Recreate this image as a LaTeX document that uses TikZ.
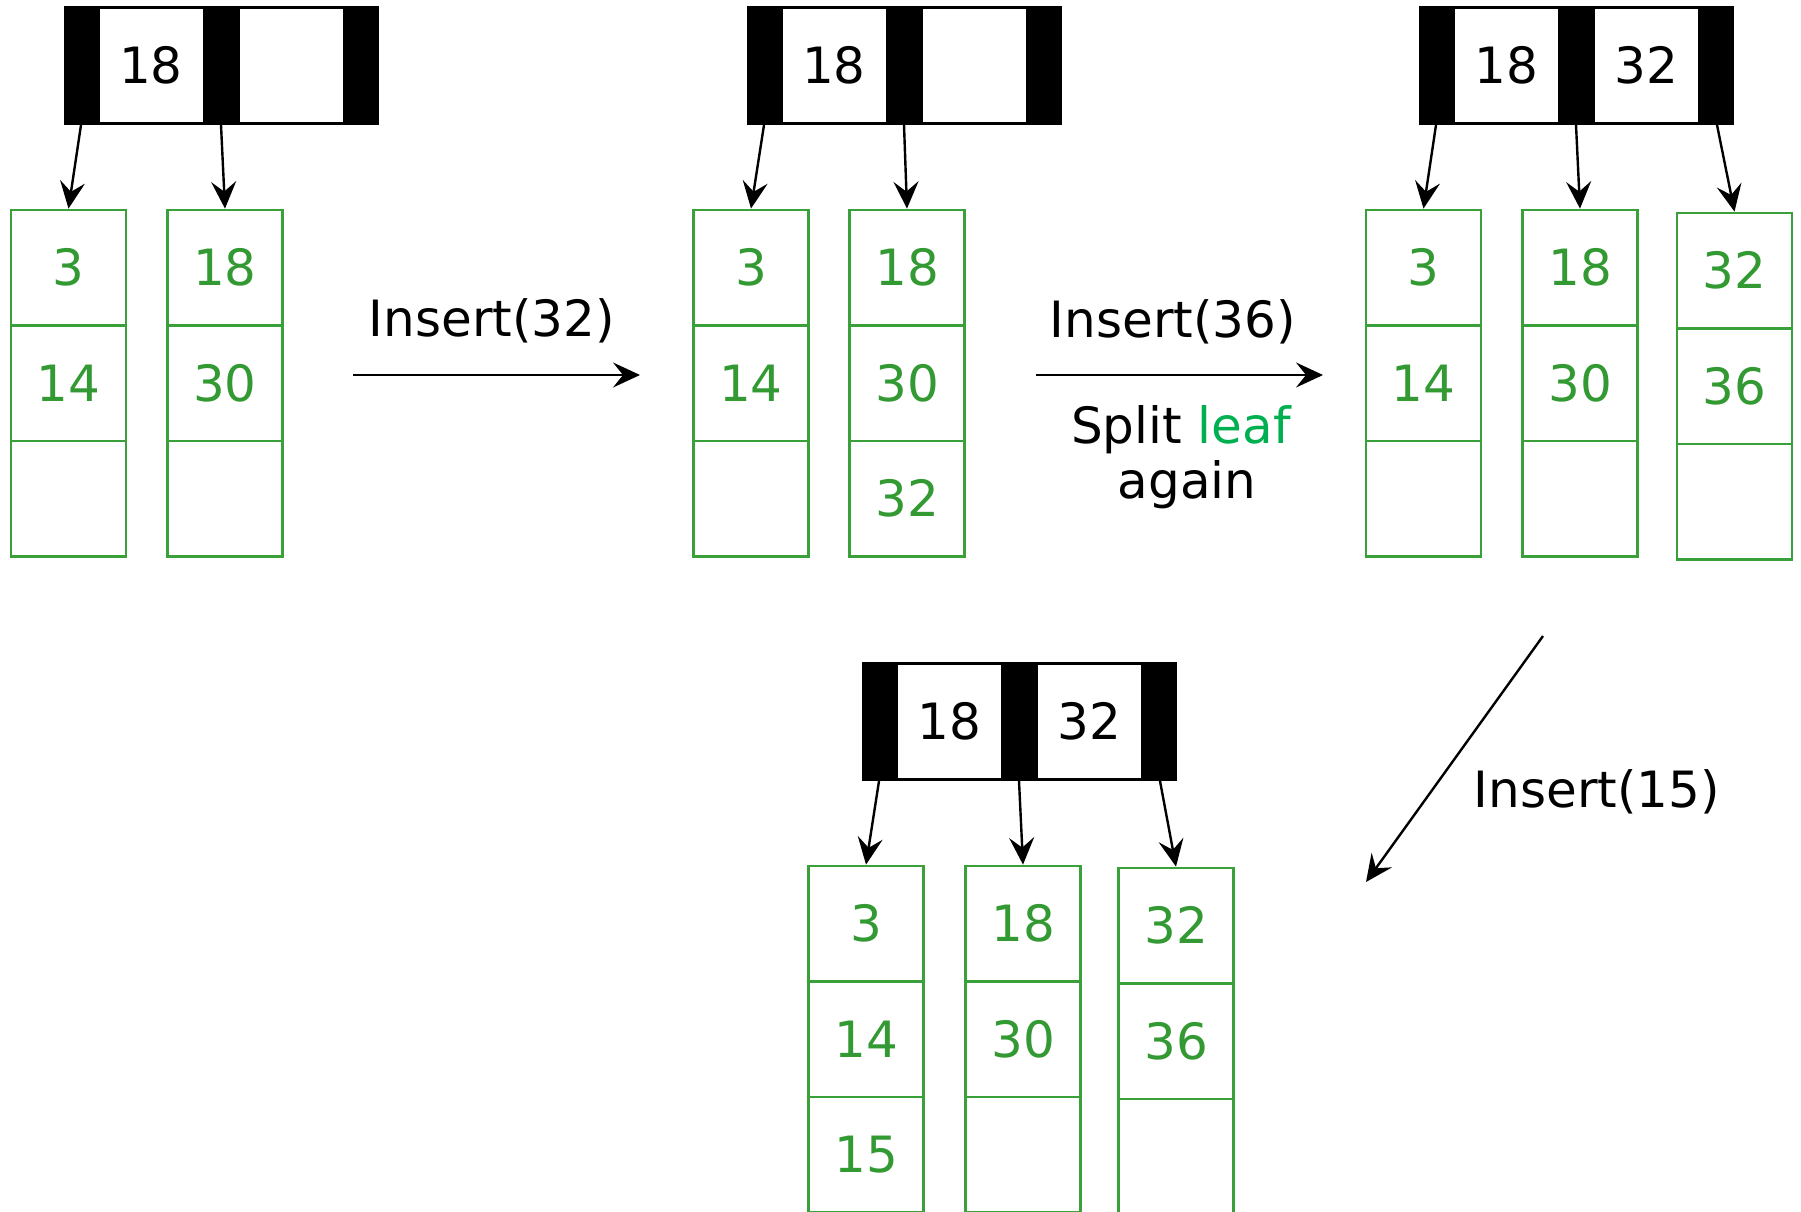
\documentclass[tikz,border=0pt]{standalone}
\usepackage{fontspec}
\setmainfont{DejaVu Sans}
\usetikzlibrary{arrows.meta}
\definecolor{boxgreen}{RGB}{58,160,58}
\definecolor{numgreen}{RGB}{51,153,51}
\definecolor{leafgreen}{RGB}{0,176,80}
\tikzset{
 bar/.style={rectangle, fill=black, draw=black, line width=1pt, minimum width=33pt, minimum height=118pt, inner sep=0pt},
 keycell/.style={rectangle, fill=white, draw=black, line width=3pt, minimum width=106pt, minimum height=116pt, inner sep=0pt, font=\fontsize{50}{58}\selectfont},
 cell/.style={rectangle, draw=boxgreen, line width=2.8pt, minimum width=115pt, minimum height=115.5pt, inner sep=0pt, text=numgreen, font=\fontsize{50}{58}\selectfont},
 ptr/.style={-{Stealth[length=27pt,width=25pt,inset=10pt]}, line width=2.4pt},
 lbl/.style={font=\fontsize{50}{58}\selectfont, inner sep=0pt, anchor=base},
}
% #1 name, #2 left x, #3 centre y, #4 #5 keys
\newcommand{\bpinner}[5]{%
 \node[bar] (#1a) at (#2+17, #3) {};
 \node[bar] (#1b) at (#2+157, #3) {};
 \node[bar] (#1c) at (#2+298, #3) {};
 \node[keycell] (#1k) at (#2+87, #3) {#4};
 \node[keycell] (#1l) at (#2+227.5, #3) {#5};
}
% #1 name, #2 centre x, #3 top y, #4 #5 #6 values
\newcommand{\bpleaf}[6]{%
 \node[cell] (#1a) at (#2, #3+57.75) {#4};
 \node[cell] (#1b) at (#2, #3+173.25) {#5};
 \node[cell] (#1c) at (#2, #3+288.75) {#6};
}
\begin{document}
\begin{tikzpicture}[x=1pt,y=-1pt]
\useasboundingbox (0,0) rectangle (1801,1212);
\clip (0,0) rectangle (1801,1212);
\fill[white] (0,0) rectangle (1801,1212);

% group 1
\bpinner{ga}{64}{65.5}{18}{}
\bpleaf{la}{68.5}{210}{3}{14}{}
\bpleaf{lb}{225}{210}{18}{30}{}
\draw[ptr] (gaa.south) -- (laa.north);
\draw[ptr] (gab.south) -- (lba.north);

% group 2
\bpinner{gb}{747}{65.5}{18}{}
\bpleaf{lc}{751}{210}{3}{14}{}
\bpleaf{ld}{907}{210}{18}{30}{32}
\draw[ptr] (gba.south) -- (lca.north);
\draw[ptr] (gbb.south) -- (lda.north);

% group 3
\bpinner{gc}{1419}{65.5}{18}{32}
\bpleaf{le}{1423.5}{210}{3}{14}{}
\bpleaf{lf}{1580}{210}{18}{30}{}
\bpleaf{lg}{1734.5}{213}{32}{36}{}
\draw[ptr] (gca.south) -- (lea.north);
\draw[ptr] (gcb.south) -- (lfa.north);
\draw[ptr] (gcc.south) -- (lga.north);

% group 4
\bpinner{gd}{862}{721.5}{18}{32}
\bpleaf{lh}{866}{866}{3}{14}{15}
\bpleaf{li}{1023}{866}{18}{30}{}
\bpleaf{lj}{1176}{868}{32}{36}{}
\draw[ptr] (gda.south) -- (lha.north);
\draw[ptr] (gdb.south) -- (lia.north);
\draw[ptr] (gdc.south) -- (lja.north);

% transitions
\coordinate (s1) at (353,375);
\coordinate (e1) at (640,375);
\coordinate (s2) at (1036,375);
\coordinate (e2) at (1323,375);
\coordinate (s3) at (1543,636);
\coordinate (e3) at (1366,882);
\draw[ptr] (s1) -- (e1);
\draw[ptr] (s2) -- (e2);
\draw[ptr] (s3) -- (e3);
\node[lbl] (t1) at (492,336) {Insert(32)};
\node[lbl] (t2) at (1173,337) {Insert(36)};
\node[lbl] (t3) at (1181,443) {Split \textcolor{leafgreen}{leaf}};
\node[lbl] (t4) at (1187,498) {again};
\node[lbl] (t5) at (1597,807) {Insert(15)};
\end{tikzpicture}
\end{document}
